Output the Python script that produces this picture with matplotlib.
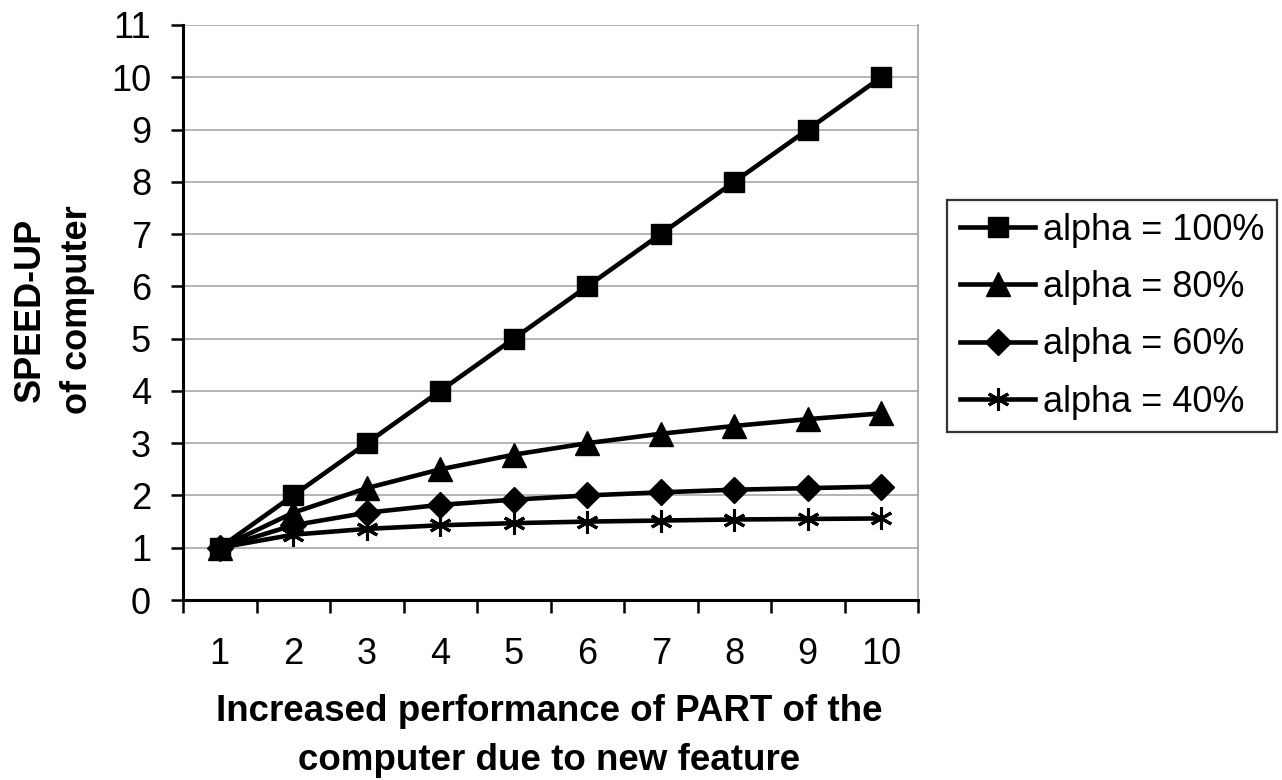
import matplotlib
matplotlib.use('Agg')
from matplotlib import pyplot as plt
from matplotlib.ticker import FixedLocator

plt.rcParams['font.family'] = ['Liberation Sans', 'DejaVu Sans']

# Dados
categorias = ['1', '2', '3', '4', '5', '6', '7', '8', '9', '10']
alpha_100 = [1.0, 2.0, 3.0, 4.0, 5.0, 6.0, 7.0, 8.0, 9.0, 10.0]
alpha_80 = [1.0, 1.67, 2.14, 2.5, 2.78, 3.0, 3.18, 3.33, 3.46, 3.57]
alpha_60 = [1.0, 1.43, 1.67, 1.82, 1.92, 2.0, 2.06, 2.11, 2.14, 2.17]
alpha_40 = [1.0, 1.25, 1.36, 1.43, 1.47, 1.5, 1.52, 1.54, 1.55, 1.56]

series = [
    ('alpha = 100%', alpha_100, 's', 15),
    ('alpha = 80%', alpha_80, '^', 17),
    ('alpha = 60%', alpha_60, 'D', 13),
    ('alpha = 40%', alpha_40, (6, 2, 0), 16),
]

fig = plt.figure(figsize=(12.82, 7.8), dpi=100)
ax = fig.add_axes([183 / 1282, 1 - 600 / 780, (918 - 183) / 1282, (600 - 25) / 780])

x = list(range(len(categorias)))
for nome, valores, marcador, tam in series:
    ax.plot(x, valores, color='black', lw=3.3, marker=marcador, markersize=tam,
            markeredgewidth=2.2 if marcador == (6, 2, 0) else 1,
            markerfacecolor='black', markeredgecolor='black', label=nome,
            clip_on=False, zorder=3)

# Eixos
ax.set_xlim(-0.5, len(categorias) - 0.5)
ax.set_ylim(0, 11)
ax.set_yticks(range(0, 12))
ax.xaxis.set_major_locator(FixedLocator([i - 0.5 for i in range(len(categorias) + 1)]))
ax.xaxis.set_minor_locator(FixedLocator(x))
ax.set_xticklabels([], minor=False)
ax.set_xticklabels(categorias, minor=True)
ax.tick_params(axis='x', which='major', direction='out', length=9, width=1.8)
ax.tick_params(axis='x', which='minor', length=0, pad=27, labelsize=26)
ax.tick_params(axis='y', direction='out', length=9, width=1.8, labelsize=26, pad=14)

ax.spines['top'].set_visible(False)
ax.spines['right'].set_color('#a0a0a0')
ax.spines['right'].set_linewidth(1.2)
for lado in ['left', 'bottom']:
    ax.spines[lado].set_linewidth(2.2)

# Linhas de grade horizontais
ax.grid(axis='y', color='#a8a8a8', lw=1.2, zorder=0)

fig.text(549 / 1282, 1 - 736 / 780,
         'Increased performance of PART of the\ncomputer due to new feature',
         fontsize=26.5, fontweight='bold', ha='center', va='center',
         multialignment='center', linespacing=1.5)
fig.text(54 / 1282, 1 - 310 / 780, 'SPEED-UP\nof computer', fontsize=26,
         fontweight='bold', rotation=90, ha='center', va='center',
         multialignment='center', linespacing=1.45)

leg = fig.legend(loc='upper left', bbox_to_anchor=(947 / 1282, 1 - 200 / 780),
                 fontsize=26, frameon=True, fancybox=False, edgecolor='black',
                 handlelength=2.1, handletextpad=0.2, borderpad=0.35,
                 labelspacing=0.62, borderaxespad=0)
leg.get_frame().set_linewidth(1.6)

fig.savefig('out.png', dpi=100)
